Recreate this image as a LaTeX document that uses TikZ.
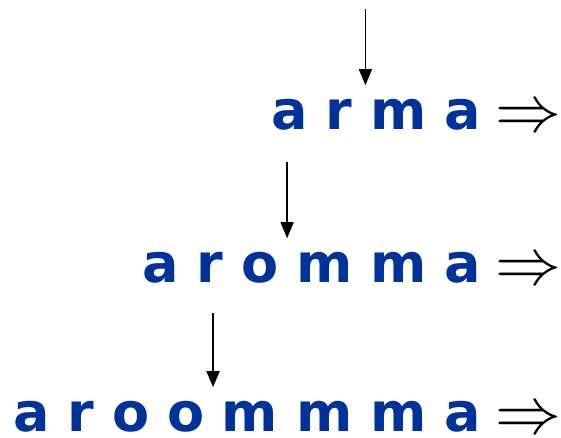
\RequirePackage{fix-cm}
\documentclass[tikz,border=0pt]{standalone}
\usepackage{fontspec}
\newfontfamily\wordfont{DejaVu Sans Bold}
\usetikzlibrary{positioning,calc,arrows.meta}
\definecolor{wordblue}{HTML}{003399}

\tikzset{
  letter/.style={text=wordblue, font=\wordfont\fontsize{27}{32}\selectfont,
    inner sep=0pt, text height=22pt, text depth=0pt},
  implies/.style={font=\fontsize{33}{40}\selectfont, inner sep=0pt, anchor=base west},
  pointer/.style={-{Triangle[length=8pt,width=6.5pt]}, line width=0.8pt},
}

\begin{document}
\begin{tikzpicture}[x=0.5pt, y=0.5pt, node distance=8.5pt]
    \useasboundingbox (0,0) rectangle (561,438);

    % first word
    \node[letter, anchor=south east] (w14) at (481,308) {a};
    \node[letter, left=of w14] (w13) {m};
    \node[letter, left=of w13] (w12) {r};
    \node[letter, left=of w12] (w11) {a};
    \node[implies] (i1) at (495,306) {$\Rightarrow$};

    % second word
    \node[letter, anchor=south east] (w26) at (481,155) {a};
    \node[letter, left=of w26] (w25) {m};
    \node[letter, left=of w25] (w24) {m};
    \node[letter, left=of w24] (w23) {o};
    \node[letter, left=of w23] (w22) {r};
    \node[letter, left=of w22] (w21) {a};
    \node[implies] (i2) at (495,153) {$\Rightarrow$};

    % third word
    \node[letter, anchor=south east] (w38) at (481,6) {a};
    \node[letter, left=of w38] (w37) {m};
    \node[letter, left=of w37] (w36) {m};
    \node[letter, left=of w36] (w35) {m};
    \node[letter, left=of w35] (w34) {o};
    \node[letter, left=of w34] (w33) {o};
    \node[letter, left=of w33] (w32) {r};
    \node[letter, left=of w32] (w31) {a};
    \node[implies] (i3) at (495,4) {$\Rightarrow$};

    % insertion points
    \coordinate (g1) at ($(w12.north east)!0.75!(w13.north west)$);
    \coordinate (g2) at ($(w23.north east)!0.5!(w24.north west)$);
    \coordinate (g3) at ($(w34.north east)!0.5!(w35.north west)$);
    \coordinate (t1) at ([yshift=38pt]g1);
    \coordinate (t2) at ([yshift=38pt]g2);
    \coordinate (t3) at ([yshift=37pt]g3);
    \draw[pointer] (t1) -- (g1);
    \draw[pointer] (t2) -- (g2);
    \draw[pointer] (t3) -- (g3);
\end{tikzpicture}
\end{document}
